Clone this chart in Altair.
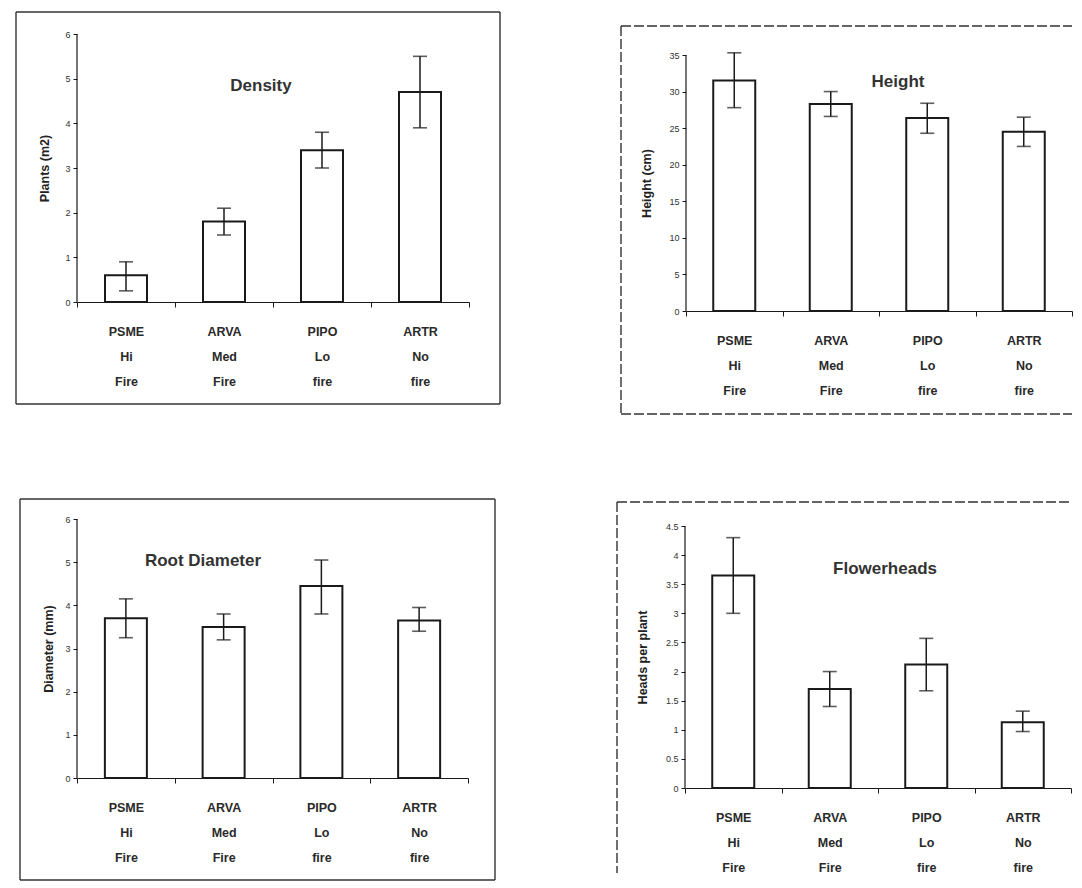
import altair as alt
import pandas as pd

# ---- data ----
species = ["PSME", "ARVA", "PIPO", "ARTR"]
fire_level = ["Hi", "Med", "Lo", "No"]
fire_word = ["Fire", "Fire", "fire", "fire"]

density_mean = [0.6, 1.8, 3.4, 4.7]
density_lo = [0.25, 1.5, 3.0, 3.9]
density_hi = [0.9, 2.1, 3.8, 5.5]

height_mean = [31.5, 28.3, 26.4, 24.5]
height_lo = [27.8, 26.6, 24.3, 22.5]
height_hi = [35.3, 30.0, 28.4, 26.5]

root_mean = [3.7, 3.5, 4.45, 3.65]
root_lo = [3.25, 3.2, 3.8, 3.4]
root_hi = [4.15, 3.8, 5.05, 3.95]

flower_mean = [3.65, 1.7, 2.12, 1.13]
flower_lo = [3.0, 1.4, 1.67, 0.97]
flower_hi = [4.3, 2.0, 2.57, 1.32]

density_ticks = [0, 1, 2, 3, 4, 5, 6]
height_ticks = [0, 5, 10, 15, 20, 25, 30, 35]
root_ticks = [0, 1, 2, 3, 4, 5, 6]
flower_ticks = [0, 0.5, 1, 1.5, 2, 2.5, 3, 3.5, 4, 4.5]

cats = ["|".join(t) for t in zip(species, fire_level, fire_word)]

FONT = "Liberation Sans"
INK = "#1a1a1a"


def panel(means, lo, hi, ymax, yvals, ytitle, title, W, H, lift,
          title_xy, ytitle_x, frame, sides="tlbr", dash=None):
    """lift: extra px of empty plot area above the axis top (to align panels)."""
    df = pd.DataFrame({"cat": cats, "mean": means, "lo": lo, "hi": hi})
    one = pd.DataFrame({"k": [0]})
    Ht = H + lift
    dom_top = ymax * Ht / H

    xscale = alt.Scale(domain=cats, paddingInner=0, paddingOuter=0)
    xaxis = alt.Axis(title=None, labelAngle=0,
                     labelExpr="isValid(datum.value) ? split(datum.value, '|') : ''",
                     tickBand="extent", tickSize=5,
                     labelPadding=18, labelFontSize=12.5,
                     labelFontWeight="bold", labelLineHeight=25,
                     labelColor="#2a2a2a", labelFont=FONT,
                     domainColor=INK, tickColor=INK, domainWidth=1.2)
    yscale = alt.Scale(domain=[0, dom_top], nice=False, zero=True)
    yaxis = alt.Axis(values=yvals, title=ytitle, grid=False, format="~g",
                     labelFontSize=9, labelColor="#333", labelFont=FONT,
                     tickSize=4, labelPadding=3, tickColor=INK,
                     domain=False,
                     titleFont=FONT, titleFontSize=12.5, titleFontWeight="bold",
                     titleColor="#222", titleX=ytitle_x, titleY=lift + H / 2,
                     titleBaseline="middle")

    def X():
        return alt.X("cat:N", sort=cats, scale=xscale, axis=xaxis)

    def Y(field):
        return alt.Y(field, type="quantitative", scale=yscale, axis=yaxis)

    base = alt.Chart(df)
    bars = base.mark_bar(fill="white", stroke=INK, strokeWidth=2, size=42).encode(
        x=X(), y=Y("mean"))
    rule = base.mark_rule(color=INK, strokeWidth=1.5).encode(
        x=X(), y=Y("lo"), y2="hi:Q")
    cap_lo = base.mark_tick(color=INK, size=14, thickness=1.6).encode(
        x=X(), y=Y("lo"))
    cap_hi = base.mark_tick(color=INK, size=14, thickness=1.6).encode(
        x=X(), y=Y("hi"))
    yline = alt.Chart(one).mark_rule(color=INK, strokeWidth=1.2).encode(
        x=alt.value(0),
        y=alt.Y(datum=0, type="quantitative", scale=yscale, axis=yaxis),
        y2=alt.Y2(datum=ymax))
    ttl = alt.Chart(one).mark_text(font=FONT, fontSize=17, fontWeight="bold",
                                   color="#333", align="center",
                                   baseline="middle").encode(
        x=alt.value(title_xy[0]), y=alt.value(lift + title_xy[1]),
        text=alt.value(title))
    layers = [bars, rule, cap_lo, cap_hi, yline, ttl]

    fl, fr, ft, fb = frame[0], W + frame[1], lift + frame[2], Ht + frame[3]
    rkw = dict(color="#333", strokeWidth=1.4)
    if dash:
        rkw["strokeDash"] = dash
    segs = []
    if "t" in sides:
        segs.append(dict(x=alt.value(fl), x2=alt.value(fr), y=alt.value(ft)))
    if "b" in sides:
        segs.append(dict(x=alt.value(fl), x2=alt.value(fr), y=alt.value(fb)))
    if "l" in sides:
        segs.append(dict(x=alt.value(fl), y=alt.value(ft), y2=alt.value(fb)))
    if "r" in sides:
        segs.append(dict(x=alt.value(fr), y=alt.value(ft), y2=alt.value(fb)))
    for s in segs:
        layers.append(alt.Chart(one).mark_rule(**rkw).encode(**s))
    return alt.layer(*layers).properties(width=W, height=Ht)


# frame = (left, right-beyond-width, top, bottom-beyond-height), in px
p1 = panel(density_mean, density_lo, density_hi, 6, density_ticks,
           "Plants (m2)", "Density", 392, 268, 0, (184, 52), -33,
           (-61, 31, -22, 102))
p2 = panel(height_mean, height_lo, height_hi, 35, height_ticks,
           "Height (cm)", "Height", 386, 256, 21, (212, 27), -40,
           (-65, 0, -29, 103), sides="tlb", dash=[10, 3])
p3 = panel(root_mean, root_lo, root_hi, 6, root_ticks,
           "Diameter (mm)", "Root Diameter", 391, 259, 0, (126, 42), -29,
           (-57, 27, -20, 102))
p4 = panel(flower_mean, flower_lo, flower_hi, 4.5, flower_ticks,
           "Heads per plant", "Flowerheads", 386, 262, 7, (200, 43), -43,
           (-68, 0, -24, 85), sides="tl", dash=[10, 3])

row1 = alt.hconcat(p1, p2, spacing=119)
row2 = alt.hconcat(p3, p4, spacing=120)
chart = alt.vconcat(row1, row2, spacing=83).properties(
    padding={"left": 7, "top": 3, "right": 0, "bottom": 0},
    background="white"
).configure_view(stroke=None)

chart.save("out.html", embed_options={"renderer": "svg", "actions": False})
